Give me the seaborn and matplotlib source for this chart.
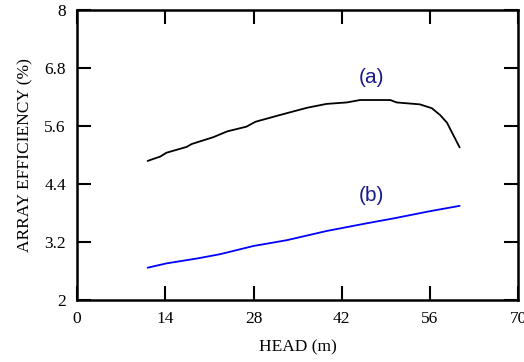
import matplotlib
matplotlib.use("Agg")
import matplotlib.pyplot as plt
import seaborn as sns
import pandas as pd

# curve (a)
head_a = [11.2, 13.2, 14.2, 17.4, 18.2, 21.6, 23.8, 26.9, 28.3, 32.2, 36.5,
          39.6, 42.8, 44.9, 49.7, 50.7, 54.4, 56.3, 57.6, 58.7, 60.7]
eff_a = [4.88, 4.97, 5.05, 5.17, 5.23, 5.37, 5.49, 5.59, 5.69, 5.83, 5.98,
         6.06, 6.09, 6.14, 6.14, 6.09, 6.05, 5.97, 5.83, 5.67, 5.16]

# curve (b)
head_b = [11.2, 14.2, 19.0, 22.7, 28.0, 33.3, 39.6, 46.0, 50.2, 56.0, 60.7]
eff_b = [2.67, 2.76, 2.86, 2.95, 3.12, 3.24, 3.43, 3.59, 3.69, 3.84, 3.95]

x_ticks = [0, 14, 28, 42, 56, 70]
y_ticks = [2, 3.2, 4.4, 5.6, 6.8, 8]
y_tick_labels = ["2", "3.2", "4.4", "5.6", "6.8", "8"]

df_a = pd.DataFrame({"head": head_a, "eff": eff_a})
df_b = pd.DataFrame({"head": head_b, "eff": eff_b})

sns.set_style("ticks")
plt.rcParams["font.family"] = ["Liberation Serif", "DejaVu Serif"]
plt.rcParams.update({"text.color": "black", "axes.labelcolor": "black",
                     "xtick.color": "black", "ytick.color": "black",
                     "axes.edgecolor": "black"})

fig = plt.figure(figsize=(5.24, 3.62), dpi=100)
ax = fig.add_axes([0.147, 0.171, 0.842, 0.801])

sns.lineplot(data=df_a, x="head", y="eff", color="black", lw=1.3, ax=ax)
sns.lineplot(data=df_b, x="head", y="eff", color="#0000ff", lw=1.3, ax=ax)

ax.text(46.7, 6.6, "(a)", color="#1a1a8c", fontsize=15, ha="center", va="center",
        family=["Liberation Sans", "DejaVu Sans"])
ax.text(46.7, 4.17, "(b)", color="#1a1a8c", fontsize=15, ha="center", va="center",
        family=["Liberation Sans", "DejaVu Sans"])

ax.set_xlim(0, 70)
ax.set_ylim(2, 8)
ax.set_xticks(x_ticks)
ax.set_yticks(y_ticks)
ax.set_yticklabels(y_tick_labels)
ax.tick_params(direction="in", length=10, width=1.5, top=True, right=True,
               labelsize=12.5, pad=8)
for s in ax.spines.values():
    s.set_linewidth(1.8)

ax.set_xlabel("HEAD (m)", fontsize=12.5, labelpad=9)
ax.set_ylabel("ARRAY EFFICIENCY (%)", fontsize=12.5, labelpad=8)

fig.savefig("out.png", dpi=100)
